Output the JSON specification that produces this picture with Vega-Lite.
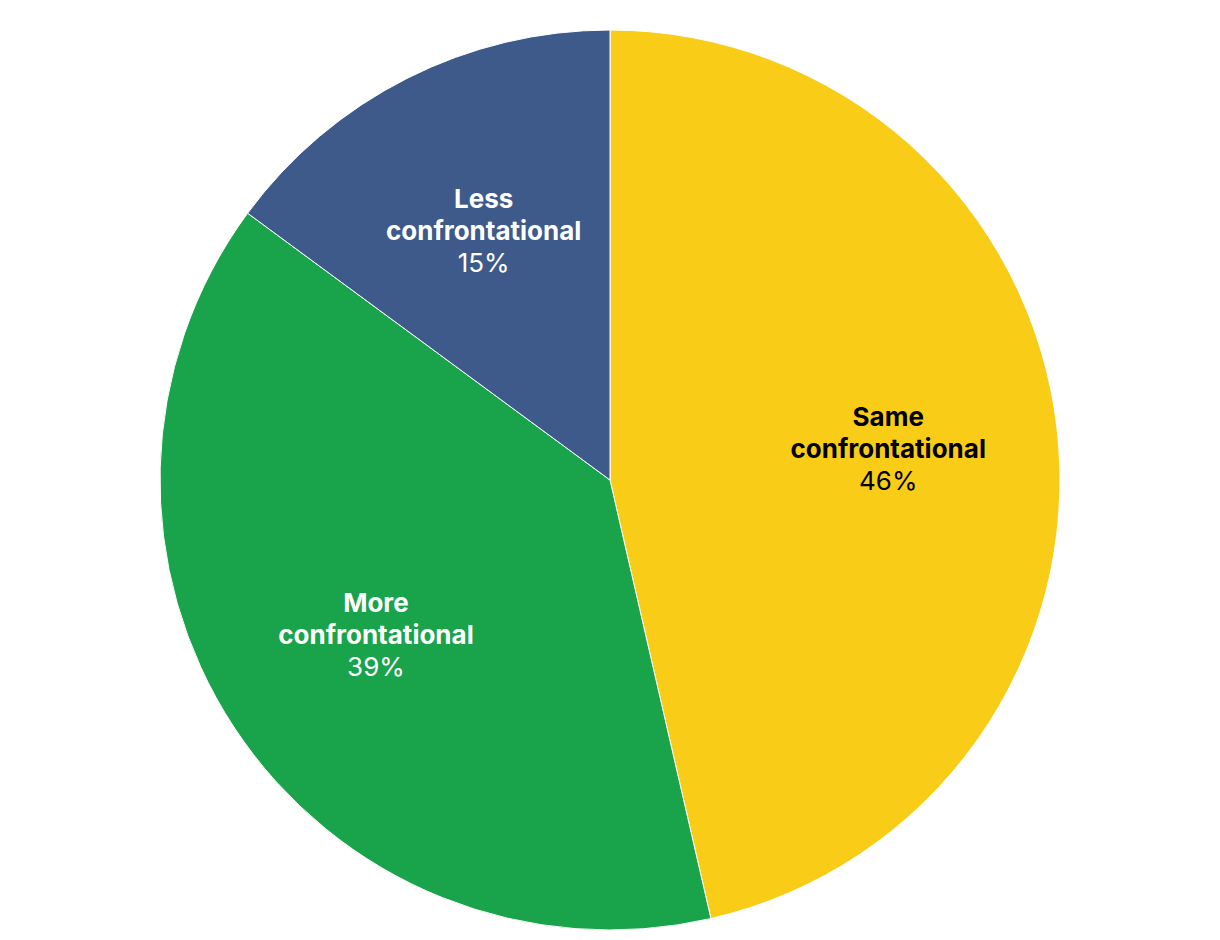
{
  "$schema": "https://vega.github.io/schema/vega-lite/v6.json",
  "autosize": {"type": "fit", "contains": "padding"},
  "width": 1220,
  "height": 940,
  "padding": {"top": 20, "bottom": 0, "left": 0, "right": 0},
  "background": "white",
  "config": {"view": {"stroke": null}, "font": "Inter"},
  "data": {
    "values": [
      {"category": "Same confrontational", "idx": 1, "value": 46.4, "line1": "Same", "line2": "confrontational", "pct": "46%"},
      {"category": "More confrontational", "idx": 2, "value": 38.7, "line1": "More", "line2": "confrontational", "pct": "39%"},
      {"category": "Less confrontational", "idx": 3, "value": 14.9, "line1": "Less", "line2": "confrontational", "pct": "15%"}
    ]
  },
  "encoding": {
    "theta": {"field": "value", "type": "quantitative", "stack": true},
    "order": {"field": "idx", "type": "quantitative"}
  },
  "layer": [
    {
      "mark": {"type": "arc", "outerRadius": 450, "stroke": "white", "strokeWidth": 1},
      "encoding": {
        "color": {
          "field": "category",
          "type": "nominal",
          "scale": {
            "domain": ["Same confrontational", "More confrontational", "Less confrontational"],
            "range": ["#F9CD17", "#19A34A", "#3E5A8A"]
          },
          "legend": null
        }
      }
    },
    {
      "mark": {"type": "text", "radius": 280, "fontSize": 26, "fontWeight": "bold", "dy": -30, "baseline": "middle", "align": "center"},
      "encoding": {
        "text": {"field": "line1"},
        "color": {"condition": {"test": "datum.idx === 1", "value": "black"}, "value": "white"}
      }
    },
    {
      "mark": {"type": "text", "radius": 280, "fontSize": 26, "fontWeight": "bold", "dy": 2, "baseline": "middle", "align": "center"},
      "encoding": {
        "text": {"field": "line2"},
        "color": {"condition": {"test": "datum.idx === 1", "value": "black"}, "value": "white"}
      }
    },
    {
      "mark": {"type": "text", "radius": 280, "fontSize": 26, "fontWeight": "normal", "dy": 34, "baseline": "middle", "align": "center"},
      "encoding": {
        "text": {"field": "pct"},
        "color": {"condition": {"test": "datum.idx === 1", "value": "black"}, "value": "white"}
      }
    }
  ]
}
